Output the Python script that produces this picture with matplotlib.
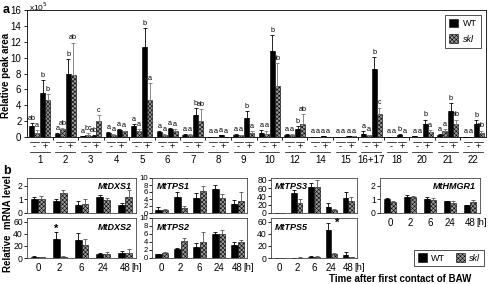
import numpy as np
import matplotlib
matplotlib.use("Agg")
import matplotlib.pyplot as plt
from matplotlib.patches import Patch
import matplotlib.transforms as mtransforms

plt.rcParams["font.family"] = ["Liberation Sans", "DejaVu Sans"]
plt.rcParams["hatch.linewidth"] = 0.4

# ----- panel a data (x10^5) -----
groups = ["1", "2", "3", "4", "5", "6", "7", "8", "9", "10", "12", "14", "15",
          "16+17", "18", "20", "21", "22"]
wt_minus = [1.4, 0.4, 0.1, 0.5, 1.4, 0.6, 0.3, 0.05, 0.3, 0.5, 0.3, 0.05, 0.05, 0.4, 0.05, 0.1, 0.3, 0.05]
skl_minus = [0.5, 1.0, 0.3, 0.3, 0.8, 0.3, 0.3, 0.05, 0.2, 0.4, 0.3, 0.05, 0.05, 0.2, 0.05, 0.05, 0.8, 0.05]
wt_plus = [5.6, 7.9, 0.15, 0.9, 11.4, 1.0, 2.8, 0.2, 2.4, 10.8, 1.05, 0.1, 0.1, 8.6, 0.3, 1.7, 3.3, 1.6]
skl_plus = [4.6, 7.8, 2.0, 0.7, 4.6, 0.8, 2.0, 0.05, 0.5, 6.4, 1.6, 0.05, 0.1, 2.9, 0.05, 0.6, 1.7, 0.5]
wt_minus_err = [0.4, 0.1, 0.05, 0.1, 0.2, 0.1, 0.05, 0, 0.1, 0.4, 0.1, 0, 0, 0.3, 0, 0, 0.1, 0]
skl_minus_err = [0.4, 0.1, 0.2, 0.1, 0.2, 0.1, 0.1, 0, 0.1, 0.4, 0.1, 0, 0, 0.1, 0, 0, 0.2, 0]
wt_plus_err = [1.6, 1.9, 0.1, 0.1, 2.3, 0.1, 0.8, 0, 0.9, 2.0, 0.3, 0, 0.05, 1.5, 0.1, 0.5, 1.0, 0.5]
skl_plus_err = [0.8, 4.1, 0.8, 0.1, 2.2, 0.2, 1.5, 0, 0.2, 2.9, 1.3, 0, 0.05, 0.8, 0, 0.3, 0.5, 0.3]
letters = [
    ["ab", "a", "b", "b"], ["a", "ab", "b", "ab"], ["a", "bc", "ab", "c"], ["a", "a", "a", "a"],
    ["a", "a", "b", "a"], ["a", "a", "a", "a"], ["a", "a", "b", "ab"], ["a", "a", "a", "a"],
    ["a", "a", "b", "a"], ["a", "a", "b", "ab"], ["a", "a", "b", "ab"], ["a", "a", "a", "a"],
    ["a", "a", "a", "a"], ["a", "a", "b", "c"], ["a", "a", "b", "a"], ["a", "a", "b", "a"],
    ["a", "a", "b", "ab"], ["a", "a", "b", "ab"],
]

# ----- panel b data -----
times = ["0", "2", "6", "24", "48"]
genes = {
    "MtDXS1": dict(wt=[1.0, 0.85, 0.6, 1.15, 0.6], wt_err=[0.15, 0.2, 0.25, 0.2, 0.15],
                   skl=[1.05, 1.45, 0.65, 0.95, 1.2], skl_err=[0.2, 0.25, 0.35, 0.15, 0.5]),
    "MtDXS2": dict(wt=[1.5, 31, 30, 6, 8], wt_err=[1, 12, 11, 2, 3],
                   skl=[1, 2, 21, 7, 9], skl_err=[0.5, 1, 11, 3, 6]),
    "MtTPS1": dict(wt=[1.0, 4.5, 4.3, 6.9, 2.7], wt_err=[0.7, 1.4, 1.5, 1.0, 0.9],
                   skl=[0.9, 1.5, 6.2, 4.4, 3.4], skl_err=[0.2, 0.6, 1.5, 1.0, 2.6]),
    "MtTPS2": dict(wt=[0.9, 2.2, 2.7, 6.1, 3.3], wt_err=[0.2, 0.4, 1.0, 0.5, 0.6],
                   skl=[1.2, 4.3, 4.1, 5.9, 4.1], skl_err=[0.2, 0.8, 2.5, 1.2, 0.4]),
    "MtTPS3": dict(wt=[0.5, 48, 63, 15, 36], wt_err=[0.5, 8, 8, 10, 14],
                   skl=[0.2, 25, 62, 7, 28], skl_err=[0.2, 9, 18, 3, 11]),
    "MtTPS5": dict(wt=[0.5, 0.5, 2, 46, 5], wt_err=[0.3, 0.3, 1.5, 12, 5],
                   skl=[0.3, 0.8, 1.5, 6, 1], skl_err=[0.2, 0.3, 1, 3, 0.5]),
    "MtHMGR1": dict(wt=[1.0, 1.2, 1.0, 0.85, 0.55], wt_err=[0.1, 0.1, 0.2, 0.05, 0.05],
                    skl=[0.8, 1.15, 0.95, 0.75, 0.8], skl_err=[0.08, 0.1, 0.15, 0.1, 0.15]),
}
star = {"MtDXS2": (1, 48), "MtTPS5": (3, 58)}

W, H = 488, 284
fig = plt.figure(figsize=(W / 100, H / 100), dpi=100)


def px_axes(x0, y0, x1, y1):
    return fig.add_axes([x0 / W, 1 - y1 / H, (x1 - x0) / W, (y1 - y0) / H])


skl_style = dict(facecolor="#9a9a9a", edgecolor="black", hatch="xxxxxxxx", linewidth=0.4)
wt_style = dict(facecolor="black", edgecolor="black", linewidth=0.4)

# ================= panel a =================
ax = px_axes(27, 10, 486, 137)
x = np.arange(len(groups))
bw = 0.2
offs = [-0.31, -0.11, 0.11, 0.31]
series = [(wt_minus, wt_minus_err, wt_style), (skl_minus, skl_minus_err, skl_style),
          (wt_plus, wt_plus_err, wt_style), (skl_plus, skl_plus_err, skl_style)]
for k, (vals, errs, st) in enumerate(series):
    vals = np.array(vals)
    errs = np.array(errs)
    ax.bar(x + offs[k], vals, bw, **st)
    ecol = "black" if st is wt_style else "#777777"
    ax.errorbar(x + offs[k], vals, yerr=[np.zeros_like(errs), errs], fmt="none",
                ecolor=ecol, elinewidth=0.6, capsize=1.5, capthick=0.6)
    for i in range(len(groups)):
        ax.text(x[i] + offs[k], vals[i] + errs[i] + 0.15, letters[i][k],
                ha="center", va="bottom", fontsize=5.2)

ax.set_xlim(-0.5, len(groups) - 0.5)
ax.set_ylim(0, 16)
ax.set_yticks(np.arange(0, 17, 2))
ax.set_xticks(np.arange(len(groups) - 1) + 0.5)
ax.set_xticklabels([])
ax.tick_params(axis="both", direction="out", length=2.5, width=0.6, labelsize=7, pad=1.5)
for s in ax.spines.values():
    s.set_linewidth(0.6)
fig.text(6 / W, 1 - 75 / H, "Relative peak area", rotation=90, ha="center", va="center",
         fontsize=7, fontweight="bold")
fig.text(29 / W, 1 - 1 / H, "x10$^5$", fontsize=6, va="top", ha="left")

trans = mtransforms.blended_transform_factory(ax.transData, fig.transFigure)
for i, g in enumerate(groups):
    for c in (-0.21, 0.21):
        ax.plot([i + c - 0.17, i + c + 0.17], [1 - 142 / H] * 2, color="black", lw=0.5,
                transform=trans, clip_on=False)
    ax.text(i - 0.21, 1 - 147 / H, "-", transform=trans, ha="center", va="center", fontsize=6.5)
    ax.text(i + 0.21, 1 - 147 / H, "+", transform=trans, ha="center", va="center", fontsize=6.5)
    ax.plot([i - 0.4, i + 0.4], [1 - 152 / H] * 2, color="black", lw=0.5,
            transform=trans, clip_on=False)
    ax.text(i, 1 - 160 / H, g, transform=trans, ha="center", va="center", fontsize=7)

ax.legend([Patch(**wt_style), Patch(**skl_style)], ["WT", "skl"], loc="upper right",
          frameon=True, fancybox=False, edgecolor="black",
          handlelength=1.0, handleheight=1.0, borderpad=0.5, labelspacing=0.7,
          handletextpad=0.5, prop={"size": 6.5})
leg = ax.get_legend()
leg.get_texts()[1].set_fontstyle("italic")
leg.get_frame().set_linewidth(0.6)

fig.text(3 / W, 1 - 10 / H, "a", fontsize=9, fontweight="bold", va="center")
fig.text(3 / W, 1 - 171 / H, "b", fontsize=9, fontweight="bold", va="center")

# ================= panel b =================
layout = {
    "MtDXS1": ((27, 178, 136, 213), (0, 2.56), [0, 1, 2], "right", False),
    "MtDXS2": ((27, 218, 136, 258), (0, 66), [0, 20, 40, 60], "right", True),
    "MtTPS1": ((152, 178, 247, 213), (0, 10), [0, 2, 4, 6, 8, 10], "left", False),
    "MtTPS2": ((152, 218, 247, 258), (0, 10), [0, 2, 4, 6, 8, 10], "left", True),
    "MtTPS3": ((271, 178, 357, 213), (0, 84), [0, 20, 40, 60, 80], "left", False),
    "MtTPS5": ((271, 218, 357, 258), (0, 66), [0, 20, 40, 60], "left", True),
    "MtHMGR1": ((380, 178, 480, 213), (0, 2.56), [0, 1, 2], "right", True),
}
xb = np.arange(len(times))
for name, (box, ylim, yt, side, show_x) in layout.items():
    d = genes[name]
    bx = px_axes(*box)
    bx.bar(xb - 0.16, d["wt"], 0.32, **wt_style)
    bx.bar(xb + 0.16, d["skl"], 0.32, **skl_style)
    bx.errorbar(xb - 0.16, d["wt"], yerr=[np.zeros(5), d["wt_err"]], fmt="none",
                ecolor="black", elinewidth=0.6, capsize=1.5, capthick=0.6)
    bx.errorbar(xb + 0.16, d["skl"], yerr=[np.zeros(5), d["skl_err"]], fmt="none",
                ecolor="#555555", elinewidth=0.6, capsize=1.5, capthick=0.6)
    bx.set_xlim(-0.5, 4.5)
    bx.set_ylim(*ylim)
    bx.set_yticks(yt)
    bx.set_xticks(xb)
    if show_x:
        bx.set_xticklabels(times)
        bx.annotate("[h]", xy=(4, 0), xycoords=("data", "axes fraction"),
                    xytext=(4.5, -3.5), textcoords="offset points",
                    ha="left", va="top", fontsize=6.8, annotation_clip=False)
    else:
        bx.set_xticklabels([])
    ysize = 5.6 if len(yt) > 5 else 6.2
    bx.tick_params(axis="x", length=0, labelsize=7, pad=3.5)
    bx.tick_params(axis="y", direction="out", length=2, width=0.6, labelsize=ysize, pad=1)
    for s in bx.spines.values():
        s.set_linewidth(0.6)
        s.set_color("#444444")
    if side == "right":
        bx.text(0.96, 0.88, name, transform=bx.transAxes, ha="right", va="top",
                fontsize=6.5, fontweight="bold", fontstyle="italic")
    else:
        bx.text(0.05, 0.88, name, transform=bx.transAxes, ha="left", va="top",
                fontsize=6.5, fontweight="bold", fontstyle="italic")
    if name in star:
        si, sy = star[name]
        off = -0.16 if name == "MtDXS2" else 0.35
        bx.text(si + off, sy, "*", ha="center", va="center", fontsize=8, fontweight="bold")

fig.text(8 / W, 1 - 224 / H, "Relative  mRNA level", rotation=90, ha="center", va="center",
         fontsize=7, fontweight="bold")

fig.legend([Patch(**wt_style), Patch(**skl_style)], ["WT", "skl"], loc="center",
           bbox_to_anchor=(449 / W, 1 - 258 / H), ncol=2, frameon=True, fancybox=False,
           edgecolor="black", handlelength=1.0, handleheight=1.0, borderpad=0.35,
           handletextpad=0.5, columnspacing=1.2, prop={"size": 6.5})
lb = fig.legends[0]
lb.get_texts()[1].set_fontstyle("italic")
lb.get_frame().set_linewidth(0.6)

fig.text(400 / W, 1 - 279 / H, "Time after first contact of BAW", ha="center", va="center",
         fontsize=7, fontweight="bold")

fig.savefig("out.png", dpi=100)
